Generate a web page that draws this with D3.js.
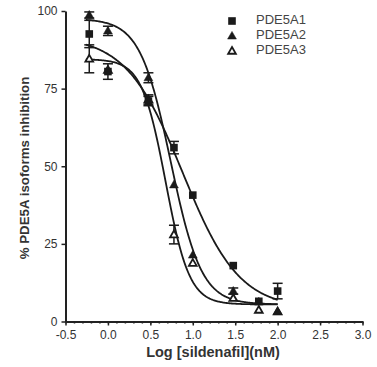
<!DOCTYPE html>
<html>
<head>
<meta charset="utf-8">
<script src="https://cdn.jsdelivr.net/npm/d3@7"></script>
<style>
  body { margin: 0; background: #fff; }
  text { font-family: "Liberation Sans", Arial, sans-serif; }
</style>
</head>
<body>
<svg width="377" height="367"></svg>
<script>
// log concentration of sildenafil (0.6, 1, 3, 6, 10, 30, 60, 100 nM)
var logConc = [-0.22, 0, 0.477, 0.778, 1.0, 1.477, 1.778, 2.0]

var seriesNames = ["PDE5A1", "PDE5A2", "PDE5A3"]
var pde5a1 = [92.6, 80.5, 71, 56, 40.7, 18, 6.5, 9.8]
var pde5a1Err = [4.4, 2.5, 1.5, 2, 0, 0, 0, 2.5]
var pde5a2 = [98.7, 93.6, 78.5, 44, 21.4, 9.8, 6.3, 3.2]
var pde5a2Err = [1, 1.5, 1.6, 0, 0, 1, 0, 0]
var pde5a3 = [84.6, 81, 71.5, 28, 18.8, 7.5, 3.7, 3.2]
var pde5a3Err = [4.5, 0, 1.5, 3, 0, 0, 0, 0]

// fitted sigmoid parameters: top, bottom, logIC50, hill slope
var fitA1 = [92, 4, 0.88, 1.3]
var fitA2 = [97.5, 5.5, 0.74, 2.4]
var fitA3 = [84.5, 5.5, 0.68, 3.1]

var xTicks = [-0.5, 0.0, 0.5, 1.0, 1.5, 2.0, 2.5, 3.0]
var yTicks = [0, 25, 50, 75, 100]

var svg = d3.select("svg")

var xScale = d3.scaleLinear().domain([-0.5, 3.0]).range([65.5, 362.5])
var yScale = d3.scaleLinear().domain([0, 100]).range([321.5, 11])

var series = [
    {name: seriesNames[0], vals: pde5a1, err: pde5a1Err, fit: fitA1, shape: "square"},
    {name: seriesNames[1], vals: pde5a2, err: pde5a2Err, fit: fitA2, shape: "tri"},
    {name: seriesNames[2], vals: pde5a3, err: pde5a3Err, fit: fitA3, shape: "open"}
]

var sigmoid = function(p, x)
{
    return p[1] + (p[0] - p[1]) / (1 + Math.pow(10, (x - p[2]) * p[3]))
}

//axes
var xAxis = d3.axisBottom(xScale)
    .tickValues(xTicks)
    .tickFormat(function(d){ return d.toFixed(1) })
    .tickSize(4)
    .tickSizeOuter(0)
var xMinor = d3.axisBottom(xScale)
    .tickValues(d3.range(-0.5, 3.001, 0.1))
    .tickFormat("")
    .tickSize(2)
    .tickSizeOuter(0)

var gx = svg.append("g")
    .attr("transform", "translate(0,321.5)")
    .call(xAxis)
svg.append("g")
    .attr("transform", "translate(0,321.5)")
    .call(xMinor)
    .select(".domain").remove()

var gy = svg.append("g")
    .attr("transform", "translate(65.5,0)")
    .call(d3.axisLeft(yScale).tickValues(yTicks).tickSize(4).tickSizeOuter(0))

svg.selectAll(".domain").attr("stroke", "#222").attr("stroke-width", 2)
svg.selectAll(".tick line").attr("stroke", "#222").attr("stroke-width", 1.5)
gx.selectAll("text").attr("font-size", 12).attr("fill", "#333").attr("dy", "0.85em")
gy.selectAll("text").attr("font-size", 12).attr("fill", "#333").attr("dx", "-1px")

//axis titles
svg.append("text")
    .attr("x", 213)
    .attr("y", 357)
    .attr("text-anchor", "middle")
    .attr("font-size", 14.5)
    .attr("font-weight", "bold")
    .attr("fill", "#333")
    .text("Log [sildenafil](nM)")

svg.append("text")
    .attr("transform", "translate(29,168) rotate(-90)")
    .attr("text-anchor", "middle")
    .attr("font-size", 13.3)
    .attr("font-weight", "bold")
    .attr("fill", "#333")
    .text("% PDE5A isoforms inhibition")

//fitted curves
var curveX = d3.range(-0.26, 2.001, 0.01)
var line = d3.line()
    .x(function(d){ return xScale(d[0]) })
    .y(function(d){ return yScale(d[1]) })

series.forEach(function(s)
{
    svg.append("path")
        .datum(curveX.map(function(x){ return [x, sigmoid(s.fit, x)] }))
        .attr("fill", "none")
        .attr("stroke", "#1a1a1a")
        .attr("stroke-width", 1.8)
        .attr("d", line)
})

//markers
var drawMarker = function(g, shape, x, y)
{
    if(shape == "square")
    {
        g.append("rect")
            .attr("x", x - 3.8).attr("y", y - 3.8)
            .attr("width", 7.6).attr("height", 7.6)
            .attr("fill", "#1a1a1a")
    }
    else
    {
        var sym = d3.symbol().type(d3.symbolTriangle).size(shape == "tri" ? 34 : 26)
        g.append("path")
            .attr("d", sym())
            .attr("transform", "translate(" + x + "," + (y + 0.5) + ")")
            .attr("fill", shape == "tri" ? "#1a1a1a" : "#fff")
            .attr("stroke", "#1a1a1a")
            .attr("stroke-width", shape == "tri" ? 0.5 : 1.8)
    }
}

// draw open triangles first, then filled, squares on top
var drawOrder = [series[2], series[1], series[0]]
drawOrder.forEach(function(s)
{
    var g = svg.append("g").attr("class", s.name)
    s.vals.forEach(function(v, i)
    {
        var cx = xScale(logConc[i])
        if(s.err[i] > 0)
        {
            var top = yScale(v + s.err[i])
            var bot = yScale(v - s.err[i])
            g.append("line").attr("x1", cx).attr("x2", cx).attr("y1", top).attr("y2", bot)
                .attr("stroke", "#1a1a1a").attr("stroke-width", 1.5)
            g.append("line").attr("x1", cx - 5).attr("x2", cx + 5).attr("y1", top).attr("y2", top)
                .attr("stroke", "#1a1a1a").attr("stroke-width", 1.5)
            g.append("line").attr("x1", cx - 5).attr("x2", cx + 5).attr("y1", bot).attr("y2", bot)
                .attr("stroke", "#1a1a1a").attr("stroke-width", 1.5)
        }
        drawMarker(g, s.shape, cx, yScale(v))
    })
})

//legend
var legend = svg.append("g").attr("class", "legend")
series.forEach(function(s, i)
{
    var ly = 21 + i * 15
    drawMarker(legend, s.shape, 232, ly)
    legend.append("text")
        .attr("x", 256)
        .attr("y", ly + 3)
        .attr("font-size", 13)
        .attr("fill", "#444")
        .text(s.name)
})
</script>
</body>
</html>
